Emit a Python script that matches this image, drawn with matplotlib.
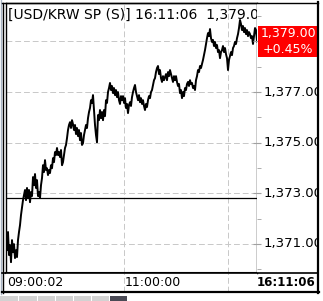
import numpy as np
import matplotlib
matplotlib.use("Agg")
import matplotlib.pyplot as plt
from matplotlib.patches import Rectangle

# ---- data ----
title_text = "[USD/KRW SP (S)] 16:11:06  1,379.00"
last_price = 1379.00
last_price_text = "1,379.00"
change_text = "+0.45%"
prev_close = 1372.81

prices = [
    1371.35, 1370.75, 1371.47, 1370.56, 1370.95, 1370.28, 1371.15, 1370.67, 1370.99, 1370.44,
    1370.75, 1370.48, 1371.15, 1371.47, 1371.74, 1372.14, 1372.45, 1372.73, 1372.93, 1373.13,
    1372.73, 1373.21, 1372.81, 1373.13, 1372.65, 1373.05, 1372.89, 1373.64, 1373.32, 1373.76,
    1373.21, 1373.52, 1372.89, 1373.05, 1372.81, 1373.32, 1373.60, 1374.11, 1373.84, 1374.31,
    1373.92, 1373.99, 1373.72, 1373.92, 1373.80, 1374.11, 1373.99, 1374.39, 1374.23, 1374.63,
    1374.51, 1374.79, 1374.51, 1374.63, 1374.43, 1374.71, 1374.11, 1374.23, 1374.51, 1374.79,
    1374.91, 1375.18, 1375.50, 1375.70, 1375.81, 1375.58, 1375.89, 1375.73, 1375.50, 1375.70,
    1375.34, 1375.58, 1375.26, 1375.50, 1375.10, 1375.38, 1374.91, 1374.98, 1375.30, 1375.50,
    1375.70, 1375.58, 1375.97, 1376.21, 1376.37, 1376.68, 1376.57, 1376.88, 1376.29, 1375.70,
    1375.30, 1375.02, 1376.09, 1375.89, 1376.29, 1375.97, 1376.21, 1375.89, 1376.29, 1376.05,
    1376.68, 1376.57, 1377.00, 1377.16, 1377.36, 1377.08, 1377.24, 1376.96, 1377.16, 1376.88,
    1377.08, 1376.80, 1377.00, 1376.68, 1376.53, 1376.84, 1376.68, 1376.84, 1376.57, 1376.76,
    1376.37, 1376.53, 1376.17, 1376.49, 1376.60, 1376.45, 1376.80, 1377.00, 1377.16, 1377.28,
    1377.00, 1376.84, 1376.68, 1376.88, 1376.60, 1376.76, 1376.53, 1376.68, 1376.45, 1376.29,
    1376.53, 1376.41, 1376.68, 1376.84, 1376.76, 1377.00, 1377.08, 1377.28, 1377.47, 1377.55,
    1377.79, 1377.95, 1378.03, 1377.71, 1377.87, 1377.55, 1377.40, 1377.63, 1377.47, 1377.59,
    1377.71, 1377.47, 1377.79, 1377.63, 1377.87, 1377.71, 1377.55, 1377.40, 1377.63, 1377.47,
    1377.63, 1377.40, 1377.24, 1377.32, 1376.96, 1377.08, 1376.76, 1377.00, 1376.84, 1377.16,
    1377.08, 1377.32, 1377.40, 1377.24, 1377.47, 1377.32, 1377.36, 1377.16, 1377.24, 1377.08,
    1377.47, 1377.63, 1377.87, 1377.79, 1378.03, 1377.95, 1378.11, 1378.27, 1378.46, 1378.66,
    1378.90, 1379.13, 1379.33, 1379.21, 1379.49, 1379.13, 1378.98, 1379.06, 1378.82, 1378.98,
    1378.74, 1378.86, 1378.58, 1378.66, 1378.34, 1378.58, 1378.66, 1378.82, 1378.58, 1378.74,
    1378.50, 1378.34, 1377.87, 1378.27, 1378.42, 1378.58, 1378.46, 1378.74, 1378.82, 1378.98,
    1378.90, 1379.13, 1379.29, 1379.53, 1379.85, 1379.69, 1379.45, 1379.61, 1379.37, 1379.53,
    1379.29, 1379.45, 1379.21, 1379.37, 1379.29, 1379.13, 1379.21, 1378.90, 1379.21, 1379.53,
    1379.45, 1379.00,
]

first_time = "09:00:02"
last_time = "16:11:06"
time_grid = [118, 222]          # sample index of the time gridlines
time_labels = ["11:00:00", ""]

price_major = [1371, 1373, 1375, 1377, 1379]
price_minor = [1370, 1372, 1374, 1376, 1378, 1380]
# 1,379 sits under the red last-price box, so it has no visible label
price_labels = ["1,371.00", "1,373.00", "1,375.00", "1,377.00", ""]

y_lo, y_hi = 1369.85, 1380.52

# ---- layout (pixel boxes, origin top-left) ----
W, H = 323, 301
fig = plt.figure(figsize=(W / 100, H / 100), dpi=100)
fig.patch.set_facecolor("white")


def box(x0, y0, x1, y1):
    return [x0 / W, 1 - y1 / H, (x1 - x0) / W, (y1 - y0) / H]


grid_kw = dict(color="#c8c8c8", linestyle=(0, (6, 3)), linewidth=0.7)

# main price line
ax = fig.add_axes(box(6, 3, 257, 273))
x = np.arange(len(prices))
ax.plot(x, prices, color="black", lw=1.4, zorder=3)
ax.axhline(prev_close, color="black", lw=0.9, zorder=2)
ax.set_xlim(0, len(prices) - 1)
ax.set_ylim(y_lo, y_hi)
ax.set_xticks(time_grid)
ax.set_yticks(price_major)
ax.grid(True, **grid_kw)
ax.tick_params(length=0, labelbottom=False, labelleft=False)
for s in ax.spines.values():
    s.set_color("black")
    s.set_linewidth(1)
ax.spines["bottom"].set_linewidth(1.5)
ax.text(0.008, 0.955, title_text, transform=ax.transAxes, ha="left", va="center",
        fontsize=10, clip_on=True, zorder=4)

# price scale panel
axp = fig.add_axes(box(257, 3, 318, 273))
axp.set_xlim(0, 1)
axp.set_ylim(y_lo, y_hi)
axp.set_xticks([])
axp.set_yticks(price_major)
axp.set_yticks(price_minor, minor=True)
axp.tick_params(axis="y", which="major", direction="inout", length=6, color="#a0a0a0",
                labelleft=False)
axp.tick_params(axis="y", which="minor", direction="in", length=3, color="#a0a0a0")
for s in axp.spines.values():
    s.set_visible(False)
for p, lab in zip(price_major, price_labels):
    if lab:
        axp.text(0.1, p, lab, ha="left", va="center", fontsize=9.5, clip_on=True)

axp.add_patch(Rectangle((0.016, last_price - 0.63), 0.984, 1.26, color="#ff0000",
                        zorder=3, lw=0))
axp.text(0.51, last_price + 0.33, last_price_text, color="white", ha="center", va="center",
         fontsize=9, zorder=4, clip_on=True)
axp.text(0.51, last_price - 0.33, change_text, color="white", ha="center", va="center",
         fontsize=9, zorder=4, clip_on=True)

# time strip
axt = fig.add_axes(box(6, 273, 257, 292))
axt.set_xlim(0, len(prices) - 1)
axt.set_ylim(0, 1)
axt.set_xticks(time_grid)
axt.set_yticks([])
axt.grid(True, axis="x", **grid_kw)
axt.tick_params(length=0, labelbottom=False)
for s in axt.spines.values():
    s.set_visible(False)
axt.annotate(first_time, (0, 0.5), xytext=(1, 0), textcoords="offset pixels",
             ha="left", va="center", fontsize=9)
for t, lab in zip(time_grid, time_labels):
    if lab:
        axt.annotate(lab, (t, 0.5), xytext=(1, 0), textcoords="offset pixels",
                     ha="left", va="center", fontsize=9)
fig.text(315 / W, 1 - 283 / H, last_time, ha="right", va="center", fontsize=8.5,
         weight="bold")

# window frame and tabs
fr = fig.add_axes([0, 0, 1, 1])
fr.set_xlim(0, W)
fr.set_ylim(H, 0)
fr.axis("off")
fr.plot([0.5, 0.5], [0, 294], color="#a8b4c4", lw=1)
fr.plot([2, 318], [3, 3], color="black", lw=1)
fr.plot([2.5, 2.5], [3, 293], color="black", lw=1)
fr.plot([318, 318], [2, 293], color="black", lw=1.6)
fr.plot([2, 319], [292, 292], color="black", lw=1.6)
fr.plot([2, 318], [273, 273], color="black", lw=1.2)
tabs = [(0, 18), (19, 37), (38, 55), (56, 73), (74, 91), (92, 109)]
for a, b in tabs:
    fr.add_patch(Rectangle((a, 296), b - a, 6, color="#d2d2d2", lw=0))
fr.add_patch(Rectangle((110, 296), 17, 6, color="#4a4a55", lw=0))

fig.savefig("out.png", dpi=100)
